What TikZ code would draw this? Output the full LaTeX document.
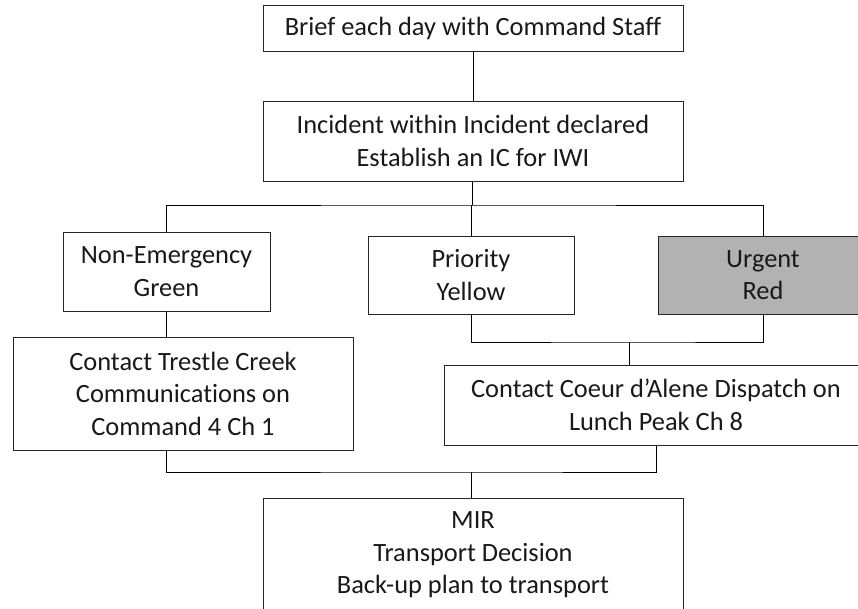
\documentclass[tikz,border=0pt]{standalone}
\usepackage{fontspec}
\setmainfont{Carlito}[Ligatures={NoCommon}]
\usetikzlibrary{positioning}

\begin{document}
\begin{tikzpicture}[
    x = 0.75pt, % one pixel of the reference
    y = -0.75pt, % y runs downward
    line width = 0.75pt, % thin rules
    font = \fontsize{19.8}{24.4}\selectfont
    ]

    \tikzset{box/.style={
    draw = black!85,
    fill = white,
    text = black!90,
    align = center,
    inner sep = 0pt
    }}
    \tikzset{greybox/.style={
    box,
    fill = black!30
    }}

    \useasboundingbox (0,0) rectangle (858,608);
    \fill[white] (0,0) rectangle (858,608);
    \clip (0,0) rectangle (858,608);

    \node[box, minimum width=315pt, minimum height=34.5pt] (brief) at (473,28) {Brief each day with Command Staff};
    \node[box, minimum width=315pt, minimum height=60pt] (inc) [below=36.75pt of brief] {Incident within Incident declared\\Establish an IC for IWI};
    \node[box, minimum width=155.25pt, minimum height=59.25pt] (green) at (166.5,271.5) {Non-Emergency\\Green};
    \node[box, minimum width=154.5pt, minimum height=58.5pt] (yellow) at (471,275) {Priority\\Yellow};
    \node[greybox, minimum width=157.5pt, minimum height=58.5pt] (red) at (763,275) {Urgent\\Red};
    \node[box, minimum width=255pt, minimum height=84.75pt] (trestle) at (183,393.5) {Contact Trestle Creek\\Communications on\\Command 4 Ch 1};
    \node[box, minimum width=318pt, minimum height=60pt] (coeur) at (656,405) {Contact Coeur d’Alene Dispatch on\\Lunch Peak Ch 8};
    \node[box, minimum width=315pt, minimum height=85.5pt] (mir) at (473,555) {MIR\\Transport Decision\\Back-up plan to transport};

    \coordinate (split) at (472,205);
    \coordinate (join1) at (629,342);
    \coordinate (join2) at (471,472);

    \draw (brief) -- (inc);
    \draw (inc.south -| split) -- (split);
    \draw (green.north) |- (split) -| (red.north);
    \draw (yellow.north) -- (yellow.north |- split);
    \draw (green.south) -- (green.south |- trestle.north);
    \draw (yellow.south) |- (join1) -| (red.south);
    \draw (join1) -- (join1 |- coeur.north);
    \draw (trestle.south -| green.south) |- (join2) -| (coeur.south);
    \draw (join2) -- (join2 |- mir.north);

\end{tikzpicture}
\end{document}
